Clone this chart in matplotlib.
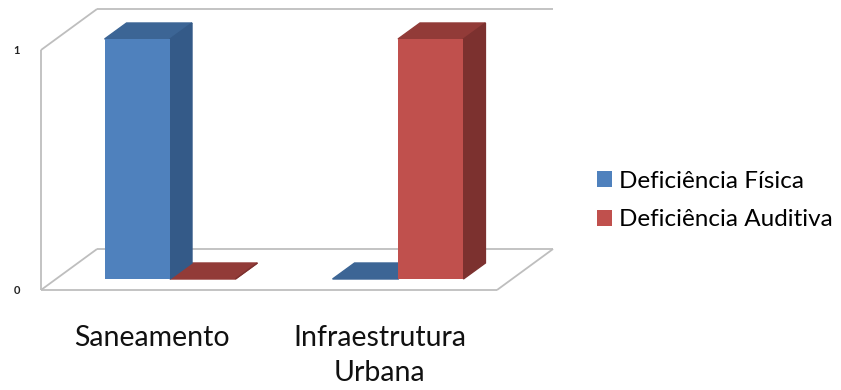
import matplotlib
matplotlib.use("Agg")
from matplotlib import pyplot as plt
from matplotlib.patches import Polygon, Patch

plt.rcParams['font.family'] = ['Lato', 'DejaVu Sans']

categories = ["Saneamento", "Infraestrutura\nUrbana"]
series = ["Deficiência Física", "Deficiência Auditiva"]
fisica = [1, 0]
auditiva = [0, 1]
yticks = [0, 1]

front_cols = ["#4F81BD", "#C0504D"]
side_cols = ["#345A88", "#7C312F"]
top_cols = ["#3C6595", "#923B38"]
wall_col = "#BEBEBE"

# fake 3d: depth shift of a bar and of the floor planes, in data units
w = 0.287
ddx, ddy = 0.0965, 0.0667
fdx, fdy = -0.066, -0.046     # front plane of walls/floor
bdx, bdy = 0.18, 0.125        # back plane

fig = plt.figure(figsize=(8.41, 3.90), dpi=100)
ax = fig.add_axes([0, 0, 1, 1])
ax.set_xlim(-0.7456, 2.943)
ax.set_ylim(-0.4625, 1.1625)
ax.axis("off")

n = len(categories)
xl, xr = -0.5, n - 0.5
vmax = max(yticks)

def line(xs, ys):
    ax.plot(xs, ys, color=wall_col, lw=1.3, zorder=1, solid_capstyle="butt")

# left wall
line([xl + fdx, xl + fdx], [0 + fdy, vmax + fdy])
line([xl + fdx, xl + bdx], [0 + fdy, 0 + bdy])
line([xl + fdx, xl + bdx], [vmax + fdy, vmax + bdy])
# back wall
line([xl + bdx, xr + bdx], [vmax + bdy, vmax + bdy])
line([xl + bdx, xr + bdx], [0 + bdy, 0 + bdy])
# floor
line([xl + fdx, xr + fdx], [0 + fdy, 0 + fdy])
line([xr + fdx, xr + bdx], [0 + fdy, 0 + bdy])

for t in yticks:
    ax.text(xl + fdx - 0.105, t + fdy, str(t), ha="center", va="center",
            fontsize=8, fontweight="bold", color="#222222")

for s, vals in enumerate([fisica, auditiva]):
    for i, v in enumerate(vals):
        x0 = i - w + s * w
        x1 = x0 + w
        ax.bar(x0, v, width=w, align="edge", color=front_cols[s], zorder=4)
        top = [(x0, v), (x1, v), (x1 + ddx, v + ddy), (x0 + ddx, v + ddy)]
        ax.add_patch(Polygon(top, closed=True, color=top_cols[s], zorder=2))
        side = [(x1, 0), (x1 + ddx, ddy), (x1 + ddx, v + ddy), (x1, v)]
        ax.add_patch(Polygon(side, closed=True, color=side_cols[s], zorder=3))

for i, c in enumerate(categories):
    ax.text(i - 0.08, -0.19, c, ha="center", va="top", fontsize=20.5,
            linespacing=1.45, color="#111111")

handles = [Patch(facecolor=front_cols[k], label=series[k]) for k in range(2)]
fig.legend(handles=handles, loc="center left", bbox_to_anchor=(0.695, 0.486),
           frameon=False, fontsize=17.5, handlelength=0.62, handleheight=0.62,
           handletextpad=0.3, labelspacing=0.72, borderpad=0)

fig.savefig("out.png", dpi=100)
